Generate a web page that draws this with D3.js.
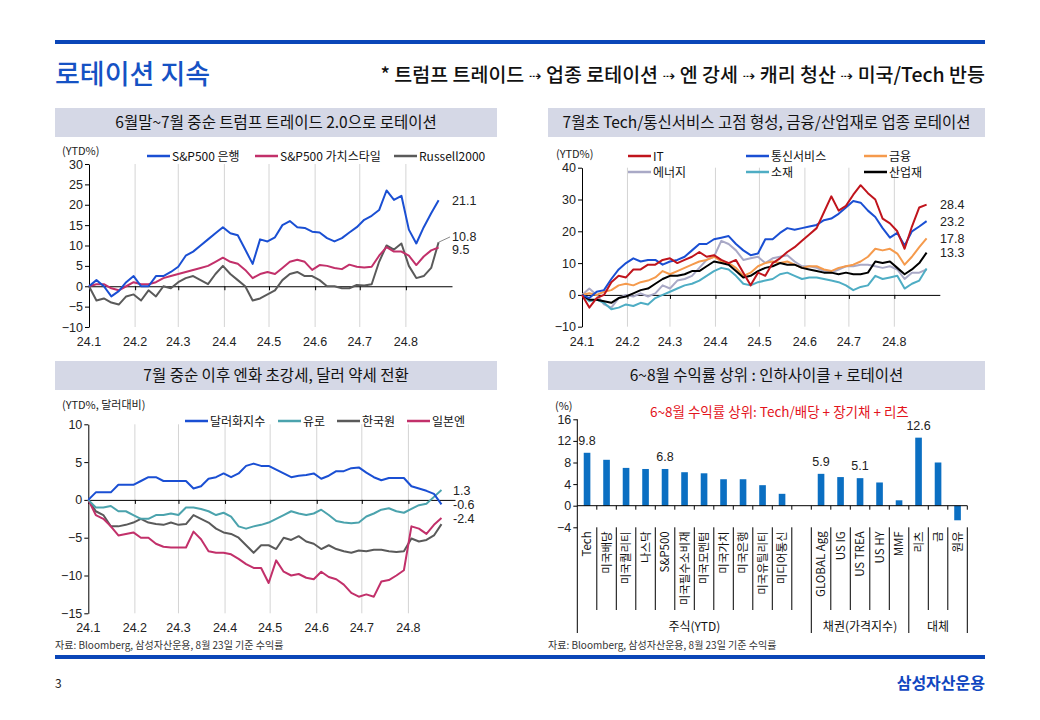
<!DOCTYPE html>
<html><head><meta charset="utf-8">
<script src="https://cdn.jsdelivr.net/npm/d3@7"></script>
<style>
body{margin:0;background:#fff;}
svg{display:block;font-family:"Noto Sans CJK KR","Noto Sans",sans-serif;}
</style></head><body>
<svg id="c" width="1040" height="720"></svg>
<script>
// ---------- data ----------
const dates = ["2024-01-01","2024-01-06","2024-01-11","2024-01-16","2024-01-21","2024-01-26","2024-01-31","2024-02-05","2024-02-10","2024-02-15","2024-02-20","2024-02-25","2024-03-01","2024-03-06","2024-03-11","2024-03-16","2024-03-21","2024-03-26","2024-03-31","2024-04-05","2024-04-10","2024-04-15","2024-04-20","2024-04-25","2024-04-30","2024-05-05","2024-05-10","2024-05-15","2024-05-20","2024-05-25","2024-05-30","2024-06-04","2024-06-09","2024-06-14","2024-06-19","2024-06-24","2024-06-29","2024-07-04","2024-07-09","2024-07-14","2024-07-19","2024-07-24","2024-07-29","2024-08-03","2024-08-08","2024-08-13","2024-08-18","2024-08-23"];
const monthTicks = ["2024-01-01","2024-02-01","2024-03-01","2024-04-01","2024-05-01","2024-06-01","2024-07-01","2024-08-01"];
const monthLabels = ["24.1","24.2","24.3","24.4","24.5","24.6","24.7","24.8"];

// chart 1 (YTD %)
const spBank = [0,1.5,0,-2.5,-1.2,1,2.5,0,0,2.5,2.5,3.5,4.8,7.5,8.5,10,11.5,13,14.5,13,12.5,9,5.5,11.5,11,12,15,16,14.5,14.3,13.4,13.2,11.8,11.0,11.8,13.2,14.5,16.3,17.3,18.7,23.5,21.2,22.2,13.9,10.5,14.5,17.9,21.1];
const spValue = [0,0.5,0.5,-0.5,-1,0,1,0.5,0.5,1,2,2.5,3,3.5,4,4.5,5,6,7,6,5.5,4,2,3,3.5,3,4.5,6,6.5,6,4,5.2,5,4.5,4.2,5.3,4.8,4.6,4.8,7.5,9.6,8.5,8.5,7.5,5.2,7.3,8.8,9.5];
const russell = [0,-3.5,-3,-4,-4.5,-2.5,-2,-3.5,-1,-2.5,0,-0.5,1,2,2.5,1.5,0.5,3,5,3,1.5,0,-3.5,-3,-2,-1,1.5,3,3.5,2.5,2.5,1.5,0,0,-0.5,-0.5,0.3,0.2,0.5,6,10,9,10.5,5,2,2.5,4.5,10.8];

// chart 2 (YTD %)
const itSector = [0,-4,-1,0,4,6,5.5,8,8,9.5,9.5,11,11.5,10,11,12,13.5,12,12.5,11,10,11,7,3,7,6,10,11.5,13.5,15,17,19,21,26,31,26.5,28,31.5,34.5,32,30,24,22.5,20,14.5,21.5,27.5,28.4];
const commSvc = [0,-1,1,1.5,5,8,10,11.5,10.5,11,11,9.5,10.5,11,12,14,16,16,17.5,18,18.5,16,14,12.5,13,17.5,17.5,19.5,21,20.5,21,21.5,22,23.5,24,25.5,27.5,29.5,29,26.5,24.5,21,18,19.5,15.5,20,21.5,23.2];
const financials = [0,0.5,0,1,1.5,3,3.5,3,4,4.5,5.5,7.5,6.5,7.5,8.5,9.5,10.5,11,12,10.5,10,8.5,6,7,9,10,10.5,10,10.5,9.5,8.5,9,9,8,7.5,8.5,9,9.5,10.5,12,14.5,14,14.5,13,9.5,12,15,17.8];
const energy = [0,2,0,-3,-4,-1,0,-0.5,0.5,-0.5,0.5,3,2,4.5,5,6,8.5,11,12,17,16,14,11,11.5,12,10,11.5,12,12.5,10.5,9,9,8.5,7.5,7,8,9,9,9.5,9.5,9,8.5,9,8,5,7,7,8];
const materials = [0,-2,-1.5,-2.5,-4.5,-4,-3,-3.5,-2.5,-3,-1,0,1,2,3,3.5,4.5,6,7.5,8.5,8,6,3.5,3,4,4.5,5,6.5,7,6,5,5.5,5.5,5,4.5,4,3,1.5,2.5,3,6,5,5.5,6,2,3.5,4.5,8.3];
const industrials = [0,-1.5,-1.5,-2,-2.5,-1,-0.5,0.5,1.5,2,3.5,5,6,6,6.5,7.5,7.5,9,10.5,10,9.5,7.5,5.5,6,7.5,8.5,9,10,9.5,9.5,8.5,8,7.5,7,7,6.5,7,6.5,6.5,7,10.5,10,10.5,8.5,6.5,8,10,13.3];

// chart 3 (YTD %, vs USD)
const dxy = [0,1,1,1,2,2,2,2.5,3,3,2.5,2.5,2.5,2.5,1.5,1.8,2.8,3,3.5,3,3.5,4.5,4.8,4.5,4.5,4,3.5,3,3.2,3.3,3.5,2.8,3.2,3.8,3.8,4.2,4.3,3.6,3.0,2.6,2.9,2.9,2.9,1.8,1.5,1.2,0.8,-0.6];
const eur = [0,-1,-1,-0.8,-1.5,-1.5,-2,-2.5,-2.5,-2,-2,-1.8,-2,-1,-1,-1.2,-1.5,-2,-1.7,-2.2,-3.5,-3.8,-3.5,-3.3,-3,-2.5,-2,-1.5,-1.8,-2,-1.8,-1.3,-2,-2.8,-3,-3.1,-3,-2.2,-1.8,-1.3,-1.1,-1.5,-1.7,-1.2,-0.7,-0.5,0.4,1.3];
const krw = [0,-1.5,-2,-3.5,-3.5,-3.3,-3,-2.5,-3,-3.2,-3.3,-3,-3.3,-3.2,-2,-2.5,-3,-3.8,-4.3,-4.5,-5,-6,-7,-6,-6,-6.5,-5,-5.3,-4.8,-5.5,-5.8,-6.5,-6,-6.5,-6.8,-7,-6.7,-6.8,-6.6,-6.6,-6.8,-6.9,-6.8,-5.1,-5.5,-5.3,-4.7,-3.2];
const jpy = [0,-2,-2.5,-3.5,-4.7,-4.5,-4.3,-5,-5,-5.8,-6.2,-6.3,-6.3,-6.3,-4.2,-5.2,-6.8,-7,-7,-7.2,-7.8,-8.5,-9,-9,-11,-8,-9.5,-10,-9.8,-10.3,-10.5,-9.5,-10.2,-10.5,-11.2,-12.3,-12.8,-12.5,-12.8,-10.8,-10.6,-10,-9.3,-3.5,-3.8,-4.5,-3.3,-2.4];

// chart 4 (bar, %)
const barCats = ["Tech","미국배당","미국퀄리티","나스닥","S&P500","미국필수소비재","미국모멘텀","미국가치","미국은행","미국유틸리티","미디어통신","","GLOBAL Agg","US IG","US TREA","US HY","MMF","리츠","금","원유"];
const barVals = [9.8,8.5,7.0,6.8,6.8,6.2,6.0,4.9,4.9,3.8,2.2,null,5.9,5.3,5.1,4.3,1.0,12.6,8.0,-2.7];
const barLabeled = ["Tech","S&P500","GLOBAL Agg","US TREA","리츠"];
const barGroupNames = ["주식(YTD)","채권(가격지수)","대체"];
const barGroupStarts = [0,12,17];
const barGroupEnds = [12,17,20];

// ---------- drawing ----------
const svg = d3.select("#c");
const parse = d3.timeParse("%Y-%m-%d");
const X = dates.map(parse);
const MT = monthTicks.map(parse);
const numFont = "'Liberation Sans',Arial,sans-serif";

// page frame
svg.append("rect").attr("x",55).attr("y",40).attr("width",930).attr("height",4).attr("fill","#0a46b8");
svg.append("text").attr("x",55).attr("y",84).attr("font-size",27).attr("fill","#1552c4").attr("font-weight",500).text("로테이션 지속");
const sub = svg.append("text").attr("x",985).attr("y",82).attr("text-anchor","end").attr("font-size",19.5).attr("font-weight",500).attr("fill","#111");
const subParts = ["* 트럼프 트레이드 ","업종 로테이션 ","엔 강세 ","캐리 청산 ","미국/Tech 반등"];
subParts.forEach((p,i)=>{
  if(i>0) sub.append("tspan").attr("font-family","'DejaVu Sans',sans-serif").attr("font-size",15).attr("dy",-1).text("⇢ ");
  sub.append("tspan").attr("dy",i>0?1:0).text(p);
});
svg.append("rect").attr("x",55).attr("y",655).attr("width",930).attr("height",4).attr("fill","#0a46b8");
svg.append("text").attr("x",55).attr("y",688).attr("font-size",12).attr("fill","#222").text("3");
svg.append("text").attr("x",985).attr("y",689).attr("text-anchor","end").attr("font-size",16).attr("font-weight",700).attr("fill","#1046c0").text("삼성자산운용");

const headers = [
  {x:55,y:108,w:442,t:"6월말~7월 중순 트럼프 트레이드 2.0으로 로테이션"},
  {x:548,y:108,w:437,t:"7월초 Tech/통신서비스 고점 형성, 금융/산업재로 업종 로테이션"},
  {x:55,y:361,w:442,t:"7월 중순 이후 엔화 초강세, 달러 약세 전환"},
  {x:548,y:361,w:437,t:"6~8월 수익률 상위 : 인하사이클 + 로테이션"}
];
headers.forEach(h=>{
  svg.append("rect").attr("x",h.x).attr("y",h.y).attr("width",h.w).attr("height",29).attr("fill","#d5d8e6");
  svg.append("text").attr("x",h.x+h.w/2).attr("y",h.y+20).attr("text-anchor","middle").attr("font-size",15.5).attr("fill","#111").text(h.t);
});
[[55,"자료: Bloomberg, 삼성자산운용, 8월 23일 기준 수익률"],[548,"자료: Bloomberg, 삼성자산운용, 8월 23일 기준 수익률"]].forEach(s=>{
  svg.append("text").attr("x",s[0]).attr("y",649).attr("font-size",10).attr("fill","#333").text(s[1]);
});

function lineChart(cfg){
  const x = d3.scaleTime().domain([parse("2024-01-01"), parse("2024-09-01")]).range([cfg.x0, cfg.x1]);
  const y = d3.scaleLinear().domain(cfg.yDomain).range([cfg.yBottom, cfg.yTop]);
  const g = svg.append("g");
  g.selectAll("line.grid").data(MT.slice(1)).join("line").attr("class","grid")
    .attr("x1",d=>x(d)).attr("x2",d=>x(d)).attr("y1",cfg.yTop).attr("y2",cfg.yBottom)
    .attr("stroke","#d4d4d4").attr("stroke-width",1);
  const ya = g.append("g").attr("transform",`translate(${cfg.x0},0)`)
    .call(d3.axisLeft(y).tickValues(cfg.yTicks).tickSize(4).tickSizeOuter(0).tickFormat(d3.format("d")));
  ya.select(".domain").attr("stroke","#000");
  ya.selectAll(".tick line").attr("stroke","#000");
  ya.selectAll(".tick text").attr("font-family",numFont).attr("font-size",12.5).attr("fill","#222").attr("x",-6);
  const xa = g.append("g").attr("transform",`translate(0,${y(0)})`)
    .call(d3.axisBottom(x).tickValues(MT).tickSize(4).tickSizeOuter(0).tickFormat(""));
  xa.select(".domain").attr("stroke","#000");
  xa.selectAll(".tick line").attr("stroke","#000");
  g.selectAll("text.xl").data(MT).join("text").attr("class","xl")
    .attr("x",d=>x(d)).attr("y",cfg.yBottom+cfg.xlOff).attr("text-anchor","middle")
    .attr("font-family",numFont).attr("font-size",12.5).attr("fill","#222")
    .text((d,i)=>monthLabels[i]);
  const line = d3.line().x((d,i)=>x(X[i])).y(d=>y(d)).curve(d3.curveLinear);
  cfg.series.forEach(s=>{
    g.append("path").datum(s.values).attr("d",line).attr("fill","none")
      .attr("stroke",s.color).attr("stroke-width",2).attr("stroke-linejoin","round");
  });
  cfg.legend.forEach(l=>{
    g.append("line").attr("x1",l.x).attr("x2",l.x+23).attr("y1",l.y).attr("y2",l.y).attr("stroke",l.color).attr("stroke-width",2.5);
    g.append("text").attr("x",l.x+25).attr("y",l.y+4.5).attr("font-size",12).attr("fill","#111").text(l.name);
  });
  g.append("text").attr("x",cfg.unitX).attr("y",cfg.unitY).attr("font-size",11).attr("fill","#222").text(cfg.unit);
  cfg.endLabels.forEach(l=>{
    g.append("text").attr("x",cfg.labelX).attr("y",y(l.v)+4.5).attr("font-family",numFont).attr("font-size",12.5).attr("fill","#222").text(l.t);
  });
  return {x,y,g};
}

const c1 = lineChart({
  x0:89, x1:452, yTop:164, yBottom:327, yDomain:[-10,30], yTicks:[-10,-5,0,5,10,15,20,25,30], xlOff:19,
  series:[{values:russell,color:"#5a5a5a"},{values:spValue,color:"#c2306a"},{values:spBank,color:"#1a4fd3"}],
  legend:[{x:147,y:156,color:"#1a4fd3",name:"S&P500 은행"},{x:255,y:156,color:"#c2306a",name:"S&P500 가치스타일"},{x:394,y:156,color:"#5a5a5a",name:"Russell2000"}],
  unit:"(YTD%)", unitX:62, unitY:155, labelX:452,
  endLabels:[{v:21.1,t:"21.1"},{v:12.1,t:"10.8"},{v:9.1,t:"9.5"}]
});
c1.g.append("line").attr("x1",c1.x(X[X.length-1])).attr("x2",450).attr("y1",c1.y(10.8)).attr("y2",c1.y(12.1)).attr("stroke","#8a8a8a").attr("stroke-width",1);

lineChart({
  x0:582, x1:939.8, yTop:167.7, yBottom:326.7, yDomain:[-10,40], yTicks:[-10,0,10,20,30,40], xlOff:19,
  series:[{values:energy,color:"#a9a9c6"},{values:materials,color:"#4eadc4"},{values:financials,color:"#f59a4c"},{values:industrials,color:"#000"},{values:commSvc,color:"#1a4fd3"},{values:itSector,color:"#c0141c"}],
  legend:[{x:628,y:156,color:"#c0141c",name:"IT"},{x:746,y:156,color:"#1a4fd3",name:"통신서비스"},{x:864,y:156,color:"#f59a4c",name:"금융"},
          {x:628,y:172,color:"#a9a9c6",name:"에너지"},{x:746,y:172,color:"#4eadc4",name:"소재"},{x:864,y:172,color:"#000",name:"산업재"}],
  unit:"(YTD%)", unitX:556, unitY:158, labelX:940,
  endLabels:[{v:28.4,t:"28.4"},{v:23.2,t:"23.2"},{v:17.8,t:"17.8"},{v:13.3,t:"13.3"}]
});

lineChart({
  x0:88.3, x1:455, yTop:424.3, yBottom:613.3, yDomain:[-15,10], yTicks:[-15,-10,-5,0,5,10], xlOff:18.5,
  series:[{values:krw,color:"#5a5a5a"},{values:jpy,color:"#c2306a"},{values:eur,color:"#4ba3ad"},{values:dxy,color:"#1a4fd3"}],
  legend:[{x:185,y:421,color:"#1a4fd3",name:"달러화지수"},{x:278,y:421,color:"#4ba3ad",name:"유로"},{x:337,y:421,color:"#5a5a5a",name:"한국원"},{x:407,y:421,color:"#c2306a",name:"일본엔"}],
  unit:"(YTD%, 달러대비)", unitX:62, unitY:409, labelX:453,
  endLabels:[{v:1.3,t:"1.3"},{v:-0.6,t:"-0.6"},{v:-2.4,t:"-2.4"}]
});

// ---------- bar chart ----------
(function(){
  const r0 = 577.3, r1 = 967.3;
  const x = d3.scaleBand().domain(d3.range(barCats.length)).range([r0,r1]).paddingInner(0.66).paddingOuter(0.33);
  const y = d3.scaleLinear().domain([-4,16]).range([527.3,419.3]);
  const step = x.step();
  const g = svg.append("g");
  g.selectAll("rect.bar").data(barVals.map((v,i)=>({v,i})).filter(d=>d.v!==null)).join("rect")
    .attr("x",d=>x(d.i)).attr("width",x.bandwidth())
    .attr("y",d=>y(Math.max(0,d.v))).attr("height",d=>Math.abs(y(d.v)-y(0)))
    .attr("fill","#0b6fc2");
  const ya = g.append("g").attr("transform",`translate(${r0},0)`)
    .call(d3.axisLeft(y).tickValues([-4,0,4,8,12,16]).tickSize(4).tickSizeOuter(0));
  ya.select(".domain").remove();
  ya.selectAll(".tick line").attr("stroke","#000");
  ya.selectAll(".tick text").attr("font-family",numFont).attr("font-size",12.5).attr("fill","#222").attr("x",-6);
  g.append("line").attr("x1",r0).attr("x2",r0).attr("y1",y(16)).attr("y2",633).attr("stroke","#000");
  g.append("line").attr("x1",r0).attr("x2",r1).attr("y1",y(0)).attr("y2",y(0)).attr("stroke","#000");
  const bounds = d3.range(1,barCats.length+1);
  g.selectAll("line.tk").data(bounds).join("line").attr("x1",k=>r0+k*step).attr("x2",k=>r0+k*step)
    .attr("y1",y(0)).attr("y2",y(0)+4).attr("stroke","#000");
  const groupB = barGroupEnds;
  g.selectAll("line.sep").data(bounds).join("line")
    .attr("x1",k=>r0+k*step).attr("x2",k=>r0+k*step)
    .attr("y1",y(-4)).attr("y2",k=>groupB.includes(k)?633:610).attr("stroke","#000");
  g.selectAll("text.cat").data(barCats.map((c,i)=>({c,i})).filter(d=>d.c)).join("text")
    .attr("transform",d=>`translate(${x(d.i)+x.bandwidth()/2+4},${y(-4)+4}) rotate(-90)`)
    .attr("text-anchor","end").attr("font-size",11.5).attr("fill","#111").text(d=>d.c);
  barGroupNames.forEach((n,i)=>{
    g.append("text").attr("x",r0+(barGroupStarts[i]+barGroupEnds[i])/2*step).attr("y",631)
      .attr("text-anchor","middle").attr("font-size",12).attr("fill","#111").text(n);
  });
  g.selectAll("text.vl").data(barVals.map((v,i)=>({v,i})).filter(d=>barLabeled.includes(barCats[d.i]))).join("text")
    .attr("x",d=>x(d.i)+x.bandwidth()/2).attr("y",d=>y(d.v)-8).attr("text-anchor","middle")
    .attr("font-family",numFont).attr("font-size",12.5).attr("fill","#222").text(d=>d.v.toFixed(1));
  g.append("text").attr("x",555).attr("y",410).attr("font-size",11).attr("fill","#222").text("(%)");
  g.append("text").attr("x",650).attr("y",417).attr("font-size",13.5).attr("fill","#e3141c").text("6~8월 수익률 상위: Tech/배당 + 장기채 + 리츠");
})();
</script></body></html>
